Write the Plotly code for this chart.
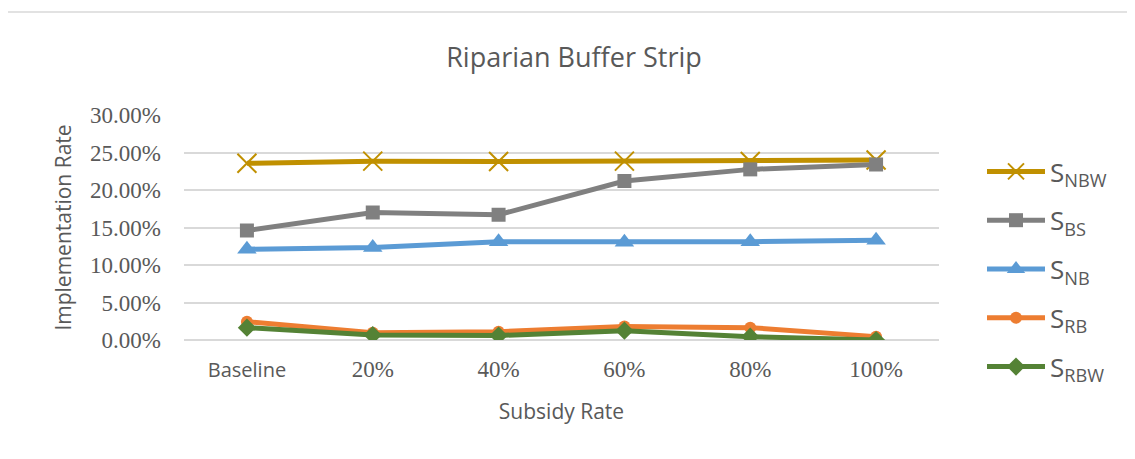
import plotly.graph_objects as go

categories = ["Baseline", "20%", "40%", "60%", "80%", "100%"]
s_nbw = [0.2356, 0.2385, 0.2380, 0.2385, 0.2380, 0.2400]
s_bs = [0.1460, 0.1700, 0.1670, 0.2120, 0.2275, 0.2340]
s_nb = [0.1210, 0.1235, 0.1310, 0.1305, 0.1310, 0.1330]
s_rb = [0.0245, 0.0098, 0.0110, 0.0180, 0.0165, 0.0045]
s_rbw = [0.0165, 0.0067, 0.0060, 0.0125, 0.0045, 0.0000]
y_ticks = [0, 0.05, 0.10, 0.15, 0.20, 0.25, 0.30]

series = [
    ("S<sub>NBW</sub>", s_nbw, "#C09000", dict(symbol="x-thin-open", size=19, line=dict(width=2, color="#C09000"))),
    ("S<sub>BS</sub>", s_bs, "#808080", dict(symbol="square", size=14)),
    ("S<sub>NB</sub>", s_nb, "#5B9BD5", dict(symbol="triangle-up", size=17)),
    ("S<sub>RB</sub>", s_rb, "#ED7D31", dict(symbol="circle", size=12)),
    ("S<sub>RBW</sub>", s_rbw, "#548235", dict(symbol="diamond", size=14)),
]

serif = "Liberation Serif, Times New Roman, serif"
sans = "Open Sans, sans-serif"

ticktext = []
for c in categories:
    if c == "Baseline":
        ticktext.append('<span style="font-family:Open Sans;font-size:20px">%s</span>' % c)
    else:
        ticktext.append(c)

fig = go.Figure()
for i, (name, vals, color, mk) in enumerate(series):
    mk = dict(mk)
    mk.setdefault("color", color)
    fig.add_trace(go.Scatter(
        x=list(range(len(categories))), y=vals, name=name, mode="lines+markers",
        line=dict(color=color, width=5), marker=mk, legendgroup=str(i),
    ))

# page is offset 8px by body margin, so figure is drawn 8px smaller
W, H = 1127, 451
L, T, R, B = 176, 107, 196, 119
pw, ph = W - L - R, H - T - B

fig.update_layout(
    width=W, height=H,
    paper_bgcolor="white", plot_bgcolor="white",
    margin=dict(l=L, r=R, t=T, b=B),
    title=dict(text="Riparian Buffer Strip", x=(574 - 8) / W, xanchor="center", xref="container",
               y=1 - 50 / H, yanchor="middle",
               font=dict(family=sans, size=27, color="#595959")),
    xaxis=dict(
        tickmode="array", tickvals=list(range(len(categories))), ticktext=ticktext,
        range=[-0.5, len(categories) - 0.5], showgrid=False, zeroline=False,
        tickfont=dict(family=serif, size=23, color="#595959"), ticks="", ticklabelstandoff=13,
        title=dict(text="Subsidy Rate", font=dict(family=sans, size=21, color="#595959"), standoff=22),
    ),
    yaxis=dict(
        range=[0, 0.30], tickvals=y_ticks, tickformat=".2%", showgrid=True,
        gridcolor="#D9D9D9", gridwidth=1.5, zeroline=True, zerolinecolor="#D9D9D9", zerolinewidth=1.5,
        tickfont=dict(family=serif, size=23, color="#595959"), ticks="", ticklabelstandoff=22,
        title=dict(text="Implementation Rate", font=dict(family=sans, size=21, color="#595959"), standoff=12),
    ),
    legend=dict(x=(974 - 176) / pw, xanchor="left", y=1 - (148 - 8 - T) / ph, yanchor="top",
                tracegroupgap=12, maxheight=420,
                font=dict(family=sans, size=26, color="#595959"), itemwidth=58,
                bgcolor="rgba(0,0,0,0)"),
    shapes=[dict(type="rect", xref="paper", yref="paper",
                 x0=(7 - 8 - L) / pw, x1=1.40, y0=-0.80, y1=(332 - 4) / ph,
                 line=dict(color="#D9D9D9", width=1.5), fillcolor="rgba(0,0,0,0)", layer="below")],
)

fig.write_html("out.html")
